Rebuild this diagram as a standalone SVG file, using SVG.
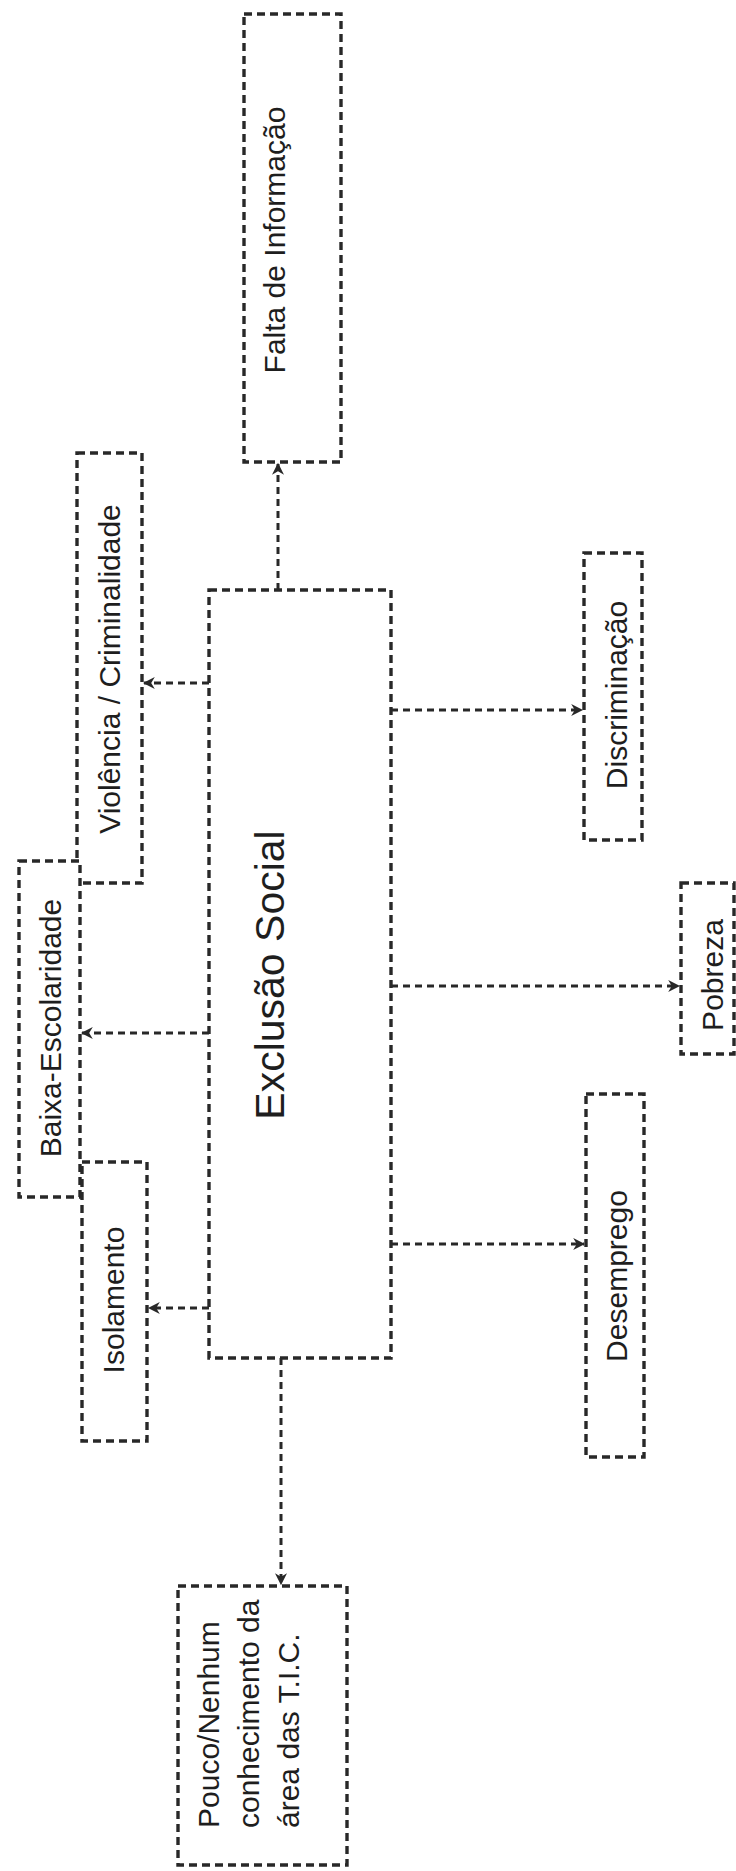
<svg xmlns="http://www.w3.org/2000/svg" width="736" height="1871" viewBox="0 0 736 1871">
<style>
.box{fill:#ffffff;stroke:#282828;stroke-width:3.4;stroke-dasharray:8 5}
.con{fill:none;stroke:#282828;stroke-width:3;stroke-dasharray:7 5}
.t{font-family:"Liberation Sans",Arial,sans-serif;font-size:30px;fill:#1e1e1e}
.tc{font-family:"Liberation Sans",Arial,sans-serif;font-size:41px;fill:#1e1e1e}
</style>
<defs>
<marker id="arr" viewBox="0 0 10 10" refX="9" refY="5" markerWidth="4" markerHeight="4" orient="auto" markerUnits="strokeWidth">
<path d="M0,0 L10,5 L0,10 L3,5 Z" fill="#282828"/>
</marker>
</defs>
<rect width="736" height="1871" fill="#ffffff"/>
<g id="connectors">
<path class="con" d="M278,590 L278,464" marker-end="url(#arr)"/>
<path class="con" d="M209,683 L144,683" marker-end="url(#arr)"/>
<path class="con" d="M209,1033 L82,1033" marker-end="url(#arr)"/>
<path class="con" d="M209,1308 L149,1308" marker-end="url(#arr)"/>
<path class="con" d="M391,710 L582,710" marker-end="url(#arr)"/>
<path class="con" d="M391,986 L679,986" marker-end="url(#arr)"/>
<path class="con" d="M391,1244 L584,1244" marker-end="url(#arr)"/>
<path class="con" d="M281,1358 L281,1584" marker-end="url(#arr)"/>
</g>
<g id="n-falta">
<rect class="box" x="244" y="14" width="97" height="448"/>
<text class="t" text-anchor="middle" transform="translate(285,240) rotate(-90)">Falta de Informação</text>
</g>
<g id="n-violencia">
<rect class="box" x="77" y="453" width="65" height="430"/>
<text class="t" text-anchor="middle" transform="translate(120,669) rotate(-90)">Violência / Criminalidade</text>
</g>
<g id="n-baixa">
<rect class="box" x="19" y="861" width="61" height="336"/>
<text class="t" text-anchor="middle" transform="translate(61,1028) rotate(-90)">Baixa-Escolaridade</text>
</g>
<g id="n-isolamento">
<rect class="box" x="82" y="1162" width="65" height="279"/>
<text class="t" text-anchor="middle" transform="translate(124,1300) rotate(-90)">Isolamento</text>
</g>
<g id="n-exclusao">
<rect class="box" x="209" y="590" width="182" height="768"/>
<text class="tc" text-anchor="middle" transform="translate(284,975) rotate(-90)">Exclusão Social</text>
</g>
<g id="n-discriminacao">
<rect class="box" x="584" y="553" width="58" height="287"/>
<text class="t" text-anchor="middle" transform="translate(627,695) rotate(-90)">Discriminação</text>
</g>
<g id="n-pobreza">
<rect class="box" x="681" y="883" width="53" height="171"/>
<text class="t" text-anchor="middle" transform="translate(723,975) rotate(-90)">Pobreza</text>
</g>
<g id="n-desemprego">
<rect class="box" x="586" y="1094" width="58" height="363"/>
<text class="t" text-anchor="middle" transform="translate(627,1276) rotate(-90)">Desemprego</text>
</g>
<g id="n-tic">
<rect class="box" x="178" y="1586" width="169" height="279"/>
<text class="t" transform="translate(219,1828) rotate(-90)">Pouco/Nenhum</text>
<text class="t" transform="translate(259,1828) rotate(-90)">conhecimento da</text>
<text class="t" transform="translate(299,1828) rotate(-90)">área das T.I.C.</text>
</g>
</svg>
